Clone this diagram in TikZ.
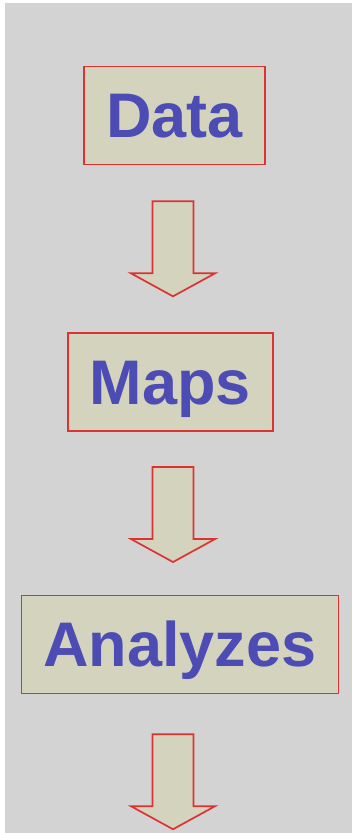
\documentclass[tikz,border=0pt]{standalone}
\usepackage{fontspec}
\setmainfont{Liberation Sans}
\usepackage{tikz}
\usetikzlibrary{positioning,calc}
\definecolor{slidegray}{HTML}{D3D3D3}
\definecolor{boxtan}{HTML}{D4D4BE}
\definecolor{edgered}{HTML}{DC3232}
\definecolor{labelblue}{HTML}{4C4CB4}
\tikzset{
  stage/.style={rectangle, draw=edgered, line width=1.7pt, fill=boxtan, text=labelblue, font=\fontsize{63}{63}\selectfont\bfseries, inner xsep=22pt, minimum height=98pt, text height=45pt, text depth=0pt},
  flowdown/.pic={\draw[draw=edgered, line width=1.7pt, fill=boxtan] (-20.5,48) -- (20.5,48) -- (20.5,-24) -- (42,-24) -- (0,-47) -- (-42,-24) -- (-20.5,-24) -- cycle;}
}

\begin{document}
\begin{tikzpicture}[x=1pt, y=1pt]
  \useasboundingbox (0,0) rectangle (352,833);
  \fill[white] (0,0) rectangle (352,833);
  \fill[slidegray] (5,0) rectangle (352,830);
  \coordinate (axis) at (173,0);
  \node[stage] (data) at (174.5,717.5) {Data};
  \node[stage, below=167pt of data, xshift=-4pt] (maps) {Maps};
  \node[stage, below=162.5pt of maps, xshift=9.5pt] (analyzes) {Analyzes};
  \pic at ($(axis |- data.south)+(0,-84)$) {flowdown};
  \pic at ($(axis |- maps.south)+(0,-83)$) {flowdown};
  \pic at ($(axis |- analyzes.south)+(0,-88)$) {flowdown};
\end{tikzpicture}
\end{document}
